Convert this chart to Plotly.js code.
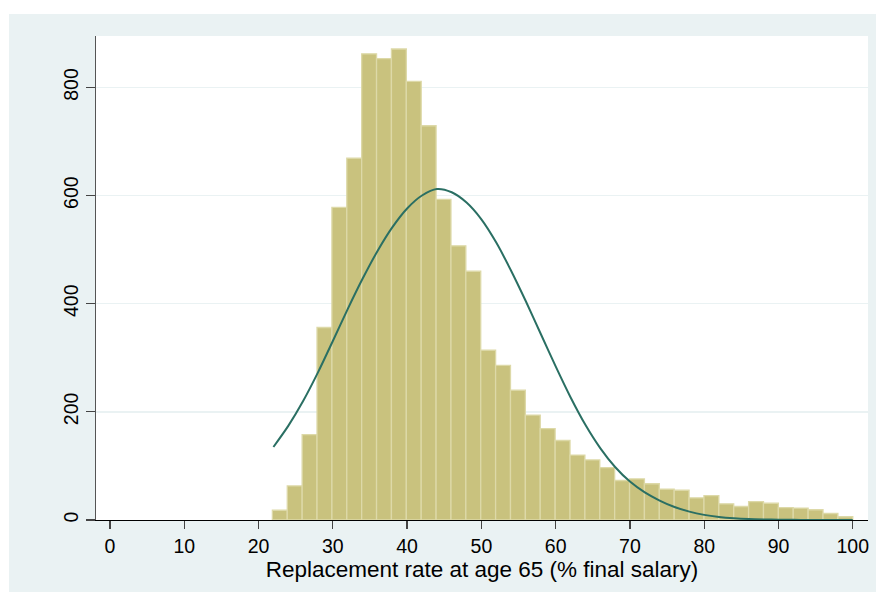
<!DOCTYPE html>
<html>
<head>
<meta charset="utf-8">
<script src="https://cdn.plot.ly/plotly-3.0.1.min.js"></script>
<style>
  html, body { margin: 0; padding: 0; background: #ffffff; width: 876px; height: 592px; overflow: hidden; }
  #chart { position: absolute; left: 9px; top: 14px; width: 867px; height: 578px; }
</style>
</head>
<body>
<div id="chart"></div>
<script>
// Histogram bins (left edge of first bin and bin width, % final salary)
const binStart = 21.86;
const binWidth = 2.0036;
// Frequencies of each bin
const counts = [18, 63, 158, 356, 578, 669, 862, 853, 871, 811,
                729, 593, 507, 460, 314, 286, 240, 194, 169, 147,
                120, 111, 97, 73, 76, 67, 57, 55, 41, 45,
                30, 25, 34, 31, 23, 22, 19, 12, 6];
// Overlaid normal density curve
const curveX = [22, 24, 26, 28, 30, 32, 34, 36, 38, 40,
                42, 44, 46, 48, 50, 52, 54, 56, 58, 60,
                62, 64, 66, 68, 70, 72, 74, 76, 78, 80,
                82, 84, 86, 88, 90, 92, 94, 96, 98, 100];
const curveY = [135, 174, 220, 273, 331, 390, 446, 497, 541, 576,
                600, 612, 606, 587, 556, 513, 461, 404, 344, 284,
                227, 176, 133, 98, 71, 51, 36, 24, 15.5, 9.5,
                5.7, 3.3, 1.8, 1, 0.5, 0.25, 0.12, 0.06, 0.03, 0.01];
const xTicks = [0, 10, 20, 30, 40, 50, 60, 70, 80, 90, 100];
const yTicks = [0, 200, 400, 600, 800];
const xTitle = "Replacement rate at age 65 (% final salary)";

const centers = counts.map((c, i) => binStart + binWidth * (i + 0.5));

const FONT = "Liberation Sans, Arial, sans-serif";

const traces = [
  {
    type: "bar",
    x: centers,
    y: counts,
    width: binWidth,
    marker: { color: "#C9C27E", line: { color: "#DDD9A8", width: 1.3 } },
    hoverinfo: "x+y",
    showlegend: false
  },
  {
    type: "scatter",
    mode: "lines",
    x: curveX,
    y: curveY,
    line: { color: "#2A6F63", width: 2, shape: "spline", smoothing: 0.8 },
    showlegend: false
  }
];

const layout = {
  width: 867,
  height: 578,
  margin: { l: 87, r: 8, t: 22, b: 72 },
  paper_bgcolor: "#EAF2F3",
  plot_bgcolor: "#FFFFFF",
  font: { family: FONT, size: 19, color: "#000000" },
  showlegend: false,
  xaxis: {
    range: [-1.886, 102.05],
    tickvals: xTicks,
    ticktext: xTicks.map(String),
    ticks: "outside",
    ticklen: 8,
    tickwidth: 1.3,
    tickcolor: "#444444",
    showline: true,
    linecolor: "#000000",
    linewidth: 1.3,
    showgrid: false,
    zeroline: false,
    tickfont: { family: FONT, size: 19.5, color: "#000000" },
    title: { text: xTitle, font: { family: FONT, size: 22.5, color: "#000000" }, standoff: 0 }
  },
  yaxis: {
    range: [0, 895],
    tickvals: yTicks,
    ticktext: yTicks.map(String),
    tickangle: -90,
    ticks: "outside",
    ticklen: 9,
    tickwidth: 1.3,
    tickcolor: "#444444",
    showline: true,
    linecolor: "#555555",
    linewidth: 1.3,
    showgrid: true,
    gridcolor: "#EAF2F3",
    gridwidth: 1.5,
    zeroline: false,
    tickfont: { family: FONT, size: 19.5, color: "#000000" }
  }
};

Plotly.newPlot("chart", traces, layout, { displayModeBar: false, staticPlot: true });
</script>
</body>
</html>
